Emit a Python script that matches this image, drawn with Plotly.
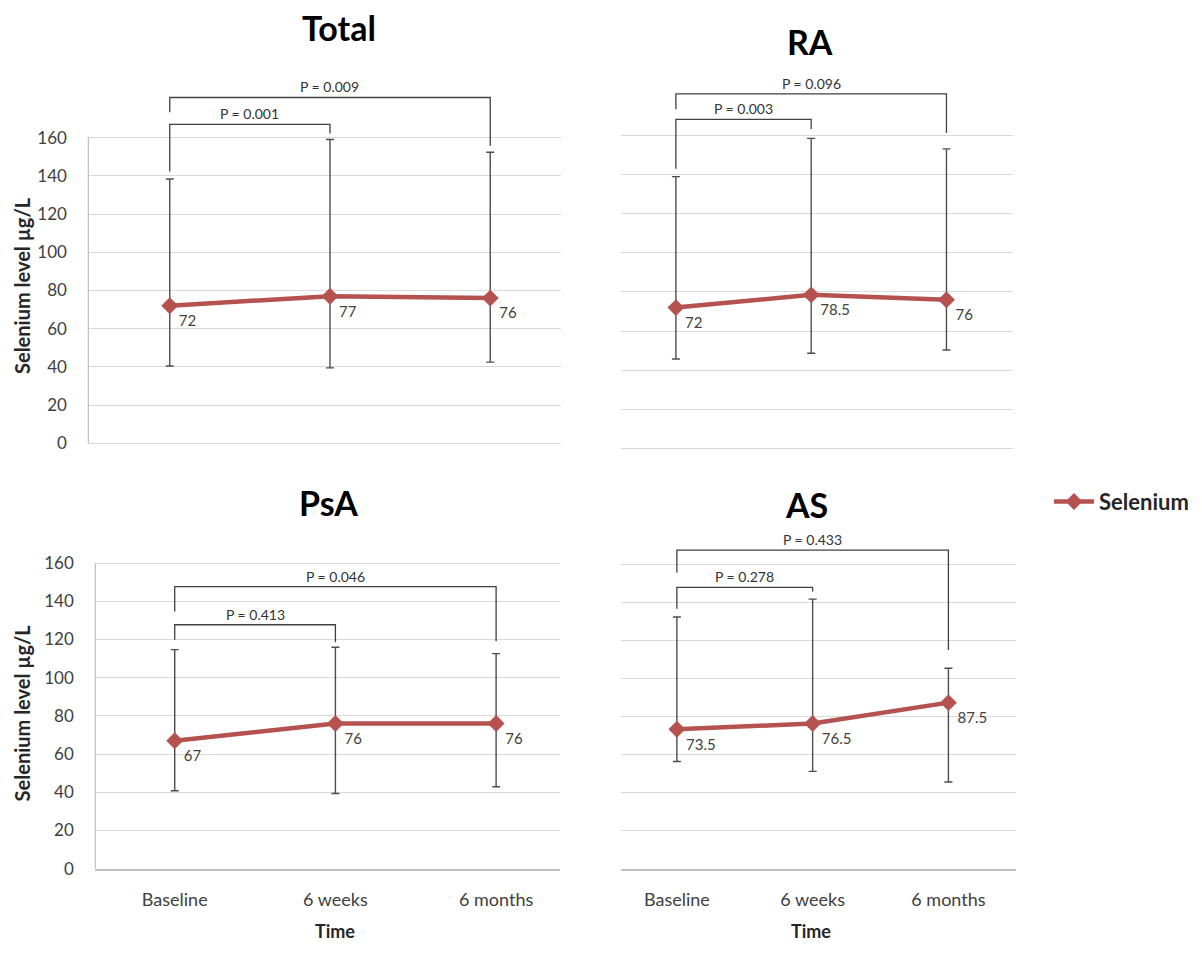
import plotly.graph_objects as go

# ---------------- data ----------------
time_points = ["Baseline", "6 weeks", "6 months"]
panel_titles = ["Total", "RA", "PsA", "AS"]

total_mean = [72, 77, 76]
total_upper = [138.3, 159, 152.3]
total_lower = [40.5, 39.5, 42.5]

ra_mean = [72, 78.5, 76]
ra_upper = [139, 158.6, 153.2]
ra_lower = [45.7, 48.6, 50.3]

psa_mean = [67, 76, 76]
psa_upper = [114.7, 115.9, 112.6]
psa_lower = [40.8, 39.4, 42.9]

as_mean = [73.5, 76.5, 87.5]
as_upper = [132.6, 142, 105.6]
as_lower = [56.5, 51.3, 45.7]

# p-value labels per panel: (first time index, second time index, label)
total_p = [(0, 1, "P = 0.001"), (0, 2, "P = 0.009")]
ra_p = [(0, 1, "P = 0.003"), (0, 2, "P = 0.096")]
psa_p = [(0, 1, "P = 0.413"), (0, 2, "P = 0.046")]
as_p = [(0, 1, "P = 0.278"), (0, 2, "P = 0.433")]

y_ticks = [0, 20, 40, 60, 80, 100, 120, 140, 160]

# ---------------- styling / layout ----------------
PAGE_MARGIN = 8  # default body margin of the HTML page
W, H = 1202 - 2 * PAGE_MARGIN, 954 - 2 * PAGE_MARGIN
FONT = "Lato, Carlito, Calibri, sans-serif"
LINE_COLOR = "#B5524F"
DARK = "#404040"
GRID = "#D9D9D9"

def px(xp):
    return (xp - PAGE_MARGIN) / W

def py(yp):
    return 1 - (yp - PAGE_MARGIN) / H

# bracket geometry (y of horizontal bar, y of left drop end, y of right drop end)
bracket_geom = {
    "Total": [(166.9, 142.2, 162.1), (181.0, 173.3, 155.7)],
    "RA": [(168.3, 143.1, 163.4), (181.4, 173.5, 161.3)],
    "PsA": [(127.7, 119.9, 118.5), (147.6, 134.6, 119.0)],
    "AS": [(148.2, 137.0, 146.0), (167.8, 156.0, 115.2)],
}

YMAX = 195
panels = [
    dict(name="Total", mean=total_mean, up=total_upper, lo=total_lower, p=total_p,
         xd=[px(88), px(562)], yd=[py(448), py(448 - YMAX * 309 / 160)],
         xr=[-0.511, 2.442], left_line=True, bottom=False, ylabels=True,
         title_xy=(340, 28)),
    dict(name="RA", mean=ra_mean, up=ra_upper, lo=ra_lower, p=ra_p,
         xd=[px(622), px(1015)], yd=[py(453), py(453 - YMAX * 316 / 160)],
         xr=[-0.406, 2.494], left_line=False, bottom=False, ylabels=False,
         title_xy=(811, 42)),
    dict(name="PsA", mean=psa_mean, up=psa_upper, lo=psa_lower, p=psa_p,
         xd=[px(95), px(561)], yd=[py(878), py(878 - YMAX * 309 / 160)],
         xr=[-0.497, 2.398], left_line=True, bottom=True, ylabels=True,
         title_xy=(329, 508)),
    dict(name="AS", mean=as_mean, up=as_upper, lo=as_lower, p=as_p,
         xd=[px(622), px(1018)], yd=[py(878), py(878 - YMAX * 307 / 160)],
         xr=[-0.412, 2.5], left_line=False, bottom=True, ylabels=False,
         title_xy=(808, 510)),
]

fig = go.Figure()
shapes = []
annotations = []
xidx = [0, 1, 2]

for i, p in enumerate(panels):
    n = "" if i == 0 else str(i + 1)
    xa, ya = "x" + n, "y" + n
    plus = [u - m for u, m in zip(p["up"], p["mean"])]
    minus = [m - l for m, l in zip(p["mean"], p["lo"])]
    fig.add_trace(go.Scatter(
        x=xidx, y=p["mean"], xaxis=xa, yaxis=ya,
        mode="lines+markers+text",
        name="<b>Selenium</b>", showlegend=(i == 0),
        line=dict(color=LINE_COLOR, width=4.5),
        marker=dict(symbol="diamond", size=13, color=LINE_COLOR),
        text=[f"{v:g}" for v in p["mean"]],
        textposition="bottom right",
        textfont=dict(family=FONT, size=15, color=DARK),
        error_y=dict(type="data", symmetric=False, array=plus, arrayminus=minus,
                     color="#4D4D4D", thickness=1.4, width=4),
        cliponaxis=False,
    ))
    fig.layout["xaxis" + n] = dict(
        domain=p["xd"], range=p["xr"], anchor=ya,
        tickvals=xidx, ticktext=time_points,
        showticklabels=p["bottom"], ticks="", showgrid=False, zeroline=False,
        showline=True, linecolor="#BFBFBF" if p["bottom"] else GRID,
        linewidth=2 if p["bottom"] else 1,
        tickfont=dict(family=FONT, size=18, color=DARK),
        ticklabelstandoff=14, fixedrange=True,
    )
    fig.layout["yaxis" + n] = dict(
        domain=p["yd"], range=[0, YMAX], anchor=xa,
        tickvals=y_ticks, showticklabels=p["ylabels"], ticks="",
        showgrid=True, gridcolor=GRID, gridwidth=1, zeroline=False,
        showline=False,
        tickfont=dict(family=FONT, size=17, color=DARK),
        ticklabelstandoff=20, fixedrange=True,
    )
    if p["left_line"]:
        shapes.append(dict(type="line", xref=xa + " domain", yref=ya,
                           x0=0.001, x1=0.001, y0=0, y1=160,
                           line=dict(color="#BFBFBF", width=1.2)))
    # p-value brackets
    for (a, b, lab), (ytop, yl, yr) in zip(p["p"], bracket_geom[p["name"]]):
        shapes.append(dict(type="path", xref=xa, yref=ya,
                           path=f"M {a},{yl} L {a},{ytop} L {b},{ytop} L {b},{yr}",
                           line=dict(color="#404040", width=1.3)))
        annotations.append(dict(x=(a + b) / 2, y=ytop, xref=xa, yref=ya,
                                text=lab, showarrow=False, yanchor="bottom",
                                font=dict(family=FONT, size=14, color="#333333")))
    # panel title
    tx, ty = p["title_xy"]
    annotations.append(dict(x=px(tx), y=py(ty), xref="paper", yref="paper",
                            text=f"<b>{p['name']}</b>", showarrow=False,
                            xanchor="center", yanchor="middle",
                            font=dict(family=FONT, size=34, color="#000000")))

# y-axis titles
for yc in (288, 720):
    annotations.append(dict(x=px(22), y=py(yc), xref="paper", yref="paper",
                            text="<b>Selenium level µg/L</b>", textangle=-90,
                            showarrow=False, xanchor="center", yanchor="middle",
                            font=dict(family=FONT, size=20, color="#262626")))
# x-axis titles
for xc in (336, 812):
    annotations.append(dict(x=px(xc), y=py(941), xref="paper", yref="paper",
                            text="<b>Time</b>", showarrow=False,
                            xanchor="center", yanchor="middle",
                            font=dict(family=FONT, size=18, color="#262626")))

fig.update_layout(
    width=W, height=H, autosize=False,
    margin=dict(l=0, r=0, t=0, b=0),
    paper_bgcolor="white", plot_bgcolor="white",
    shapes=shapes, annotations=annotations,
    showlegend=True,
    legend=dict(x=px(1051), y=py(507), xanchor="left", yanchor="middle",
                font=dict(family=FONT, size=22, color="#262626"),
                bgcolor="rgba(0,0,0,0)", itemwidth=40),
)

fig.write_html("out.html", config={"displayModeBar": False})
